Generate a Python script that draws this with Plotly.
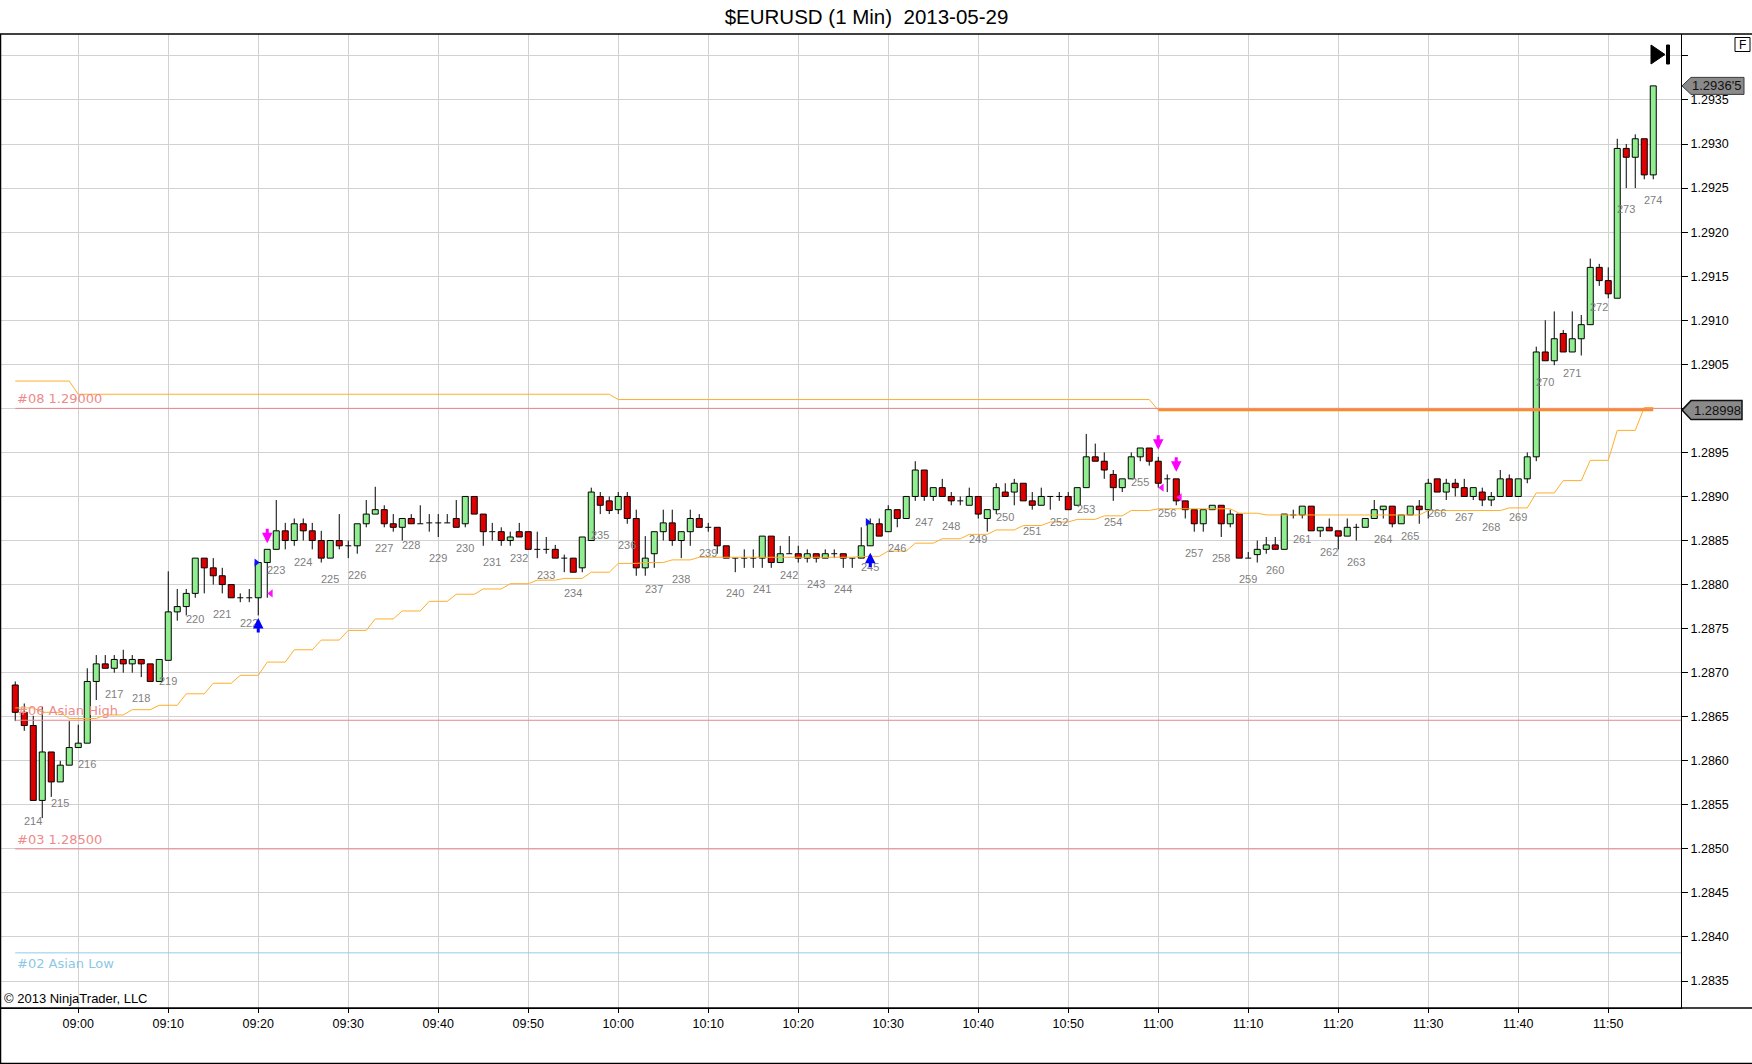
import plotly.graph_objects as go
import pandas as pd

# ---------------- data ----------------
times = pd.date_range("2013-05-29 08:53", "2013-05-29 11:55", freq="1min")

opens = [
    1.28686, 1.28655, 1.28640, 1.28555, 1.28610, 1.28576, 1.28595, 1.28615, 1.28620, 1.28690,
    1.28710, 1.28705, 1.28715, 1.28710, 1.28715, 1.28710, 1.28690, 1.28714, 1.28769, 1.28775,
    1.28790, 1.28830, 1.28819, 1.28810, 1.28800, 1.28785, 1.28785, 1.28785, 1.28825, 1.28840,
    1.28861, 1.28850, 1.28869, 1.28861, 1.28850, 1.28830, 1.28850, 1.28844, 1.28844, 1.28869,
    1.28880, 1.28885, 1.28869, 1.28865, 1.28875, 1.28869, 1.28870, 1.28870, 1.28870, 1.28875,
    1.28869, 1.28900, 1.28880, 1.28860, 1.28860, 1.28850, 1.28860, 1.28860, 1.28840, 1.28840,
    1.28840, 1.28830, 1.28830, 1.28819, 1.28850, 1.28900, 1.28895, 1.28885, 1.28900, 1.28875,
    1.28819, 1.28835, 1.28860, 1.28870, 1.28850, 1.28860, 1.28875, 1.28865, 1.28865, 1.28844,
    1.28830, 1.28830, 1.28830, 1.28830, 1.28855, 1.28825, 1.28835, 1.28835, 1.28830, 1.28835,
    1.28830, 1.28835, 1.28835, 1.28830, 1.28830, 1.28844, 1.28869, 1.28860, 1.28885, 1.28875,
    1.28900, 1.28930, 1.28900, 1.28910, 1.28900, 1.28895, 1.28890, 1.28900, 1.28875, 1.28885,
    1.28905, 1.28905, 1.28915, 1.28895, 1.28890, 1.28900, 1.28900, 1.28900, 1.28890, 1.28910,
    1.28945, 1.28940, 1.28925, 1.28910, 1.28920, 1.28945, 1.28955, 1.28940, 1.28920, 1.28920,
    1.28895, 1.28885, 1.28869, 1.28885, 1.28890, 1.28869, 1.28880, 1.28830, 1.28834, 1.28840,
    1.28845, 1.28840, 1.28879, 1.28879, 1.28889, 1.28861, 1.28865, 1.28861, 1.28855, 1.28865,
    1.28865, 1.28875, 1.28885, 1.28889, 1.28869, 1.28879, 1.28889, 1.28885, 1.28920, 1.28905,
    1.28915, 1.28910, 1.28900, 1.28905, 1.28896, 1.28900, 1.28920, 1.28900, 1.28920, 1.28945,
    1.29064, 1.29054, 1.29085, 1.29064, 1.29079, 1.29095, 1.29160, 1.29145, 1.29125, 1.29295,
    1.29285, 1.29306, 1.29265,
]
highs = [
    1.28690, 1.28665, 1.28651, 1.28661, 1.28610, 1.28600, 1.28645, 1.28641, 1.28705, 1.28720,
    1.28720, 1.28720, 1.28726, 1.28720, 1.28715, 1.28710, 1.28715, 1.28815, 1.28795, 1.28795,
    1.28830, 1.28830, 1.28830, 1.28819, 1.28800, 1.28790, 1.28795, 1.28825, 1.28840, 1.28896,
    1.28870, 1.28875, 1.28875, 1.28870, 1.28861, 1.28850, 1.28880, 1.28850, 1.28869, 1.28896,
    1.28911, 1.28890, 1.28880, 1.28875, 1.28880, 1.28890, 1.28880, 1.28880, 1.28880, 1.28896,
    1.28900, 1.28900, 1.28880, 1.28870, 1.28865, 1.28860, 1.28870, 1.28860, 1.28860, 1.28854,
    1.28845, 1.28834, 1.28830, 1.28854, 1.28910, 1.28905, 1.28900, 1.28905, 1.28905, 1.28885,
    1.28855, 1.28860, 1.28885, 1.28885, 1.28860, 1.28885, 1.28880, 1.28870, 1.28865, 1.28844,
    1.28830, 1.28840, 1.28840, 1.28855, 1.28855, 1.28844, 1.28855, 1.28844, 1.28840, 1.28835,
    1.28840, 1.28840, 1.28835, 1.28830, 1.28865, 1.28875, 1.28875, 1.28890, 1.28885, 1.28900,
    1.28940, 1.28930, 1.28910, 1.28920, 1.28905, 1.28900, 1.28910, 1.28900, 1.28885, 1.28915,
    1.28915, 1.28920, 1.28915, 1.28905, 1.28910, 1.28900, 1.28905, 1.28905, 1.28910, 1.28971,
    1.28960, 1.28950, 1.28930, 1.28920, 1.28950, 1.28955, 1.28955, 1.28945, 1.28925, 1.28920,
    1.28895, 1.28885, 1.28885, 1.28890, 1.28890, 1.28885, 1.28880, 1.28837, 1.28850, 1.28854,
    1.28854, 1.28880, 1.28885, 1.28889, 1.28889, 1.28865, 1.28875, 1.28861, 1.28875, 1.28869,
    1.28875, 1.28896, 1.28889, 1.28889, 1.28879, 1.28889, 1.28896, 1.28920, 1.28920, 1.28920,
    1.28920, 1.28920, 1.28910, 1.28910, 1.28905, 1.28930, 1.28925, 1.28920, 1.28950, 1.29070,
    1.29100, 1.29110, 1.29089, 1.29110, 1.29106, 1.29170, 1.29164, 1.29160, 1.29306, 1.29300,
    1.29311, 1.29306, 1.29366,
]
lows = [
    1.28645, 1.28634, 1.28555, 1.28535, 1.28559, 1.28576, 1.28595, 1.28615, 1.28620, 1.28669,
    1.28705, 1.28700, 1.28700, 1.28700, 1.28695, 1.28690, 1.28690, 1.28714, 1.28759, 1.28765,
    1.28785, 1.28790, 1.28800, 1.28790, 1.28785, 1.28780, 1.28780, 1.28765, 1.28785, 1.28840,
    1.28840, 1.28844, 1.28850, 1.28840, 1.28825, 1.28830, 1.28840, 1.28830, 1.28835, 1.28865,
    1.28880, 1.28865, 1.28860, 1.28850, 1.28869, 1.28869, 1.28860, 1.28854, 1.28870, 1.28865,
    1.28865, 1.28880, 1.28844, 1.28850, 1.28844, 1.28844, 1.28854, 1.28840, 1.28830, 1.28835,
    1.28830, 1.28814, 1.28814, 1.28814, 1.28850, 1.28880, 1.28880, 1.28880, 1.28869, 1.28810,
    1.28810, 1.28819, 1.28850, 1.28844, 1.28830, 1.28844, 1.28865, 1.28860, 1.28835, 1.28830,
    1.28814, 1.28819, 1.28819, 1.28819, 1.28819, 1.28825, 1.28835, 1.28825, 1.28825, 1.28825,
    1.28830, 1.28830, 1.28819, 1.28819, 1.28830, 1.28844, 1.28855, 1.28860, 1.28865, 1.28875,
    1.28895, 1.28895, 1.28895, 1.28900, 1.28890, 1.28890, 1.28890, 1.28875, 1.28860, 1.28880,
    1.28900, 1.28890, 1.28895, 1.28885, 1.28890, 1.28885, 1.28895, 1.28885, 1.28890, 1.28910,
    1.28940, 1.28920, 1.28895, 1.28905, 1.28920, 1.28940, 1.28935, 1.28910, 1.28905, 1.28890,
    1.28875, 1.28860, 1.28860, 1.28885, 1.28854, 1.28865, 1.28830, 1.28830, 1.28825, 1.28835,
    1.28840, 1.28840, 1.28875, 1.28875, 1.28861, 1.28854, 1.28861, 1.28840, 1.28855, 1.28850,
    1.28865, 1.28875, 1.28875, 1.28865, 1.28869, 1.28879, 1.28869, 1.28875, 1.28905, 1.28896,
    1.28900, 1.28900, 1.28896, 1.28889, 1.28889, 1.28900, 1.28900, 1.28900, 1.28915, 1.28940,
    1.29054, 1.29049, 1.29064, 1.29064, 1.29060, 1.29095, 1.29139, 1.29125, 1.29125, 1.29250,
    1.29250, 1.29260, 1.29260,
]
closes = [
    1.28655, 1.28640, 1.28555, 1.28610, 1.28576, 1.28595, 1.28615, 1.28620, 1.28690, 1.28710,
    1.28705, 1.28715, 1.28710, 1.28715, 1.28710, 1.28690, 1.28715, 1.28769, 1.28775, 1.28790,
    1.28830, 1.28819, 1.28810, 1.28800, 1.28785, 1.28785, 1.28785, 1.28825, 1.28840, 1.28861,
    1.28850, 1.28869, 1.28861, 1.28850, 1.28830, 1.28850, 1.28844, 1.28844, 1.28869, 1.28880,
    1.28885, 1.28869, 1.28865, 1.28875, 1.28869, 1.28869, 1.28870, 1.28870, 1.28870, 1.28865,
    1.28900, 1.28880, 1.28860, 1.28860, 1.28850, 1.28854, 1.28854, 1.28840, 1.28840, 1.28840,
    1.28830, 1.28830, 1.28814, 1.28854, 1.28905, 1.28890, 1.28884, 1.28900, 1.28875, 1.28819,
    1.28830, 1.28860, 1.28870, 1.28850, 1.28860, 1.28875, 1.28865, 1.28865, 1.28844, 1.28830,
    1.28830, 1.28830, 1.28830, 1.28855, 1.28825, 1.28835, 1.28835, 1.28830, 1.28835, 1.28830,
    1.28835, 1.28835, 1.28830, 1.28830, 1.28844, 1.28869, 1.28855, 1.28885, 1.28875, 1.28900,
    1.28930, 1.28900, 1.28910, 1.28900, 1.28895, 1.28895, 1.28900, 1.28880, 1.28885, 1.28910,
    1.28900, 1.28915, 1.28895, 1.28890, 1.28900, 1.28900, 1.28900, 1.28885, 1.28910, 1.28945,
    1.28940, 1.28930, 1.28910, 1.28920, 1.28945, 1.28955, 1.28940, 1.28915, 1.28920, 1.28895,
    1.28885, 1.28869, 1.28885, 1.28890, 1.28869, 1.28880, 1.28830, 1.28830, 1.28840, 1.28845,
    1.28840, 1.28880, 1.28879, 1.28889, 1.28861, 1.28865, 1.28861, 1.28855, 1.28865, 1.28865,
    1.28875, 1.28885, 1.28889, 1.28869, 1.28879, 1.28889, 1.28885, 1.28915, 1.28905, 1.28915,
    1.28910, 1.28900, 1.28910, 1.28896, 1.28900, 1.28920, 1.28900, 1.28920, 1.28945, 1.29064,
    1.29054, 1.29079, 1.29064, 1.29079, 1.29095, 1.29160, 1.29145, 1.29130, 1.29295, 1.29285,
    1.29306, 1.29265, 1.29366,
]

# bar counter labels (every 3rd bar)
bar_label_times = pd.date_range("2013-05-29 08:55", "2013-05-29 11:55", freq="3min")
bar_label_numbers = list(range(214, 275))

# trailing stop line (steps)
trail_start = ["08:53", "08:56", "08:59", "09:03", "09:06", "09:09", "09:12", "09:15", "09:18", "09:21",
               "09:24", "09:27", "09:30", "09:33", "09:36", "09:39", "09:42", "09:45", "09:48", "09:51",
               "09:54", "09:57", "10:00", "10:03", "10:06", "10:09", "10:27", "10:30", "10:33", "10:36",
               "10:39", "10:42", "10:45", "10:48", "10:51", "10:54", "10:57", "11:00", "11:09", "11:12",
               "11:30", "11:39", "11:42", "11:45", "11:48", "11:51", "11:54"]
trail_end = ["08:55", "08:58", "09:02", "09:05", "09:08", "09:11", "09:14", "09:17", "09:20", "09:23",
             "09:26", "09:29", "09:32", "09:35", "09:38", "09:41", "09:44", "09:47", "09:50", "09:53",
             "09:56", "09:59", "10:02", "10:05", "10:08", "10:26", "10:29", "10:32", "10:35", "10:38",
             "10:41", "10:44", "10:47", "10:50", "10:53", "10:56", "10:59", "11:08", "11:11", "11:29",
             "11:38", "11:41", "11:44", "11:47", "11:50", "11:53", "11:55"]
trail_value = [1.28660, 1.28655, 1.28648, 1.28652, 1.28658, 1.28663, 1.28676, 1.28688, 1.28697, 1.28712,
               1.28726, 1.28737, 1.28748, 1.28761, 1.28770, 1.28781, 1.28789, 1.28795, 1.28801, 1.28805,
               1.28807, 1.28814, 1.28824, 1.28825, 1.28828, 1.28831, 1.28832, 1.28838, 1.28847, 1.28852,
               1.28857, 1.28862, 1.28867, 1.28871, 1.28874, 1.28878, 1.28884, 1.28886, 1.28881, 1.28879,
               1.28884, 1.28887, 1.28904, 1.28918, 1.28941, 1.28975, 1.29001]

# upper level line (steps), last step drawn thick
upper_start = ["08:53", "09:00", "10:00", "11:00"]
upper_end = ["08:59", "09:59", "10:59", "11:55"]
upper_value = [1.29031, 1.29016, 1.29010, 1.28998]

# horizontal levels
level_names = ["#08 1.29000", "#06 Asian High", "#03 1.28500", "#02 Asian Low"]
level_values = [1.29000, 1.28646, 1.28500, 1.28382]
level_colors = ["#E8868C", "#E8868C", "#E8868C", "#92CBE5"]
level_text_colors = ["#EE8A8A", "#EE8A8A", "#EE8A8A", "#8CC8E6"]
level_label_below = [False, False, False, True]

# signals
up_arrow_times = ["2013-05-29 09:20", "2013-05-29 10:28"]
up_arrow_prices = [1.28762, 1.28836]
down_arrow_times = ["2013-05-29 09:21", "2013-05-29 11:00", "2013-05-29 11:02"]
down_arrow_prices = [1.28847, 1.28953, 1.28928]
tri_right_times = ["2013-05-29 09:19:47", "2013-05-29 10:27:42"]
tri_right_prices = [1.28825, 1.28871]
tri_left_times = ["2013-05-29 09:21:24", "2013-05-29 11:00:24", "2013-05-29 11:02:24"]
tri_left_prices = [1.28790, 1.28910, 1.28899]

y_ticks = [1.2835, 1.2840, 1.2845, 1.2850, 1.2855, 1.2860, 1.2865, 1.2870, 1.2875, 1.2880,
           1.2885, 1.2890, 1.2895, 1.2900, 1.2905, 1.2910, 1.2915, 1.2920, 1.2925, 1.2930,
           1.2935, 1.2940]
y_hidden_labels = [1.2900, 1.2940]
x_ticks = pd.date_range("2013-05-29 09:00", "2013-05-29 11:50", freq="10min")

last_price_label = "1.2936'5"
level_price_label = "1.28998"

# ---------------- layout geometry ----------------
W, H = 1752, 1064
ML, MR, MT, MB = 1, 71, 34, 56
PW, PH = W - ML - MR, H - MT - MB
X_RANGE = ["2013-05-29 08:51:25", "2013-05-29 11:58:05"]
Y_RANGE = [1.283194, 1.294249]
FONT = "Liberation Sans, Arial, sans-serif"
UP_FILL, DN_FILL = "#90EE90", "#E10000"

def px2paper_x(px):
    return (px - ML) / PW

def px2paper_y(py):
    return (H - MB - py) / PH

def T(hm):
    return pd.Timestamp("2013-05-29 " + hm)

fig = go.Figure()

# wicks (split so they don't cross the bodies)
wx, wy = [], []
for t, o, h, l, c in zip(times, opens, highs, lows, closes):
    top, bot = max(o, c), min(o, c)
    if h > top:
        wx += [t, t, None]; wy += [h, top, None]
    if l < bot:
        wx += [t, t, None]; wy += [bot, l, None]
fig.add_trace(go.Scatter(x=wx, y=wy, mode="lines", line=dict(color="black", width=1),
                         hoverinfo="skip", showlegend=False))

# doji bars
half = pd.Timedelta(seconds=20)
dx, dy = [], []
for t, o, c in zip(times, opens, closes):
    if abs(c - o) < 1e-9:
        dx += [t - half, t + half, None]; dy += [o, o, None]
fig.add_trace(go.Scatter(x=dx, y=dy, mode="lines", line=dict(color="black", width=1),
                         hoverinfo="skip", showlegend=False))

# bodies
bx, bh, bb, bc = [], [], [], []
for t, o, c in zip(times, opens, closes):
    if abs(c - o) < 1e-9:
        continue
    bx.append(t); bh.append(abs(c - o)); bb.append(min(o, c))
    bc.append(UP_FILL if c > o else DN_FILL)
fig.add_trace(go.Bar(x=bx, y=bh, base=bb, width=40000,
                     marker=dict(color=bc, line=dict(color="black", width=1)),
                     hoverinfo="skip", showlegend=False))

# trailing line
tx, ty = [], []
for s, e, v in zip(trail_start, trail_end, trail_value):
    tx += [T(s), T(e)]; ty += [v, v]
fig.add_trace(go.Scatter(x=tx, y=ty, mode="lines", line=dict(color="#FFAE2A", width=1),
                         hoverinfo="skip", showlegend=False))

# upper line
ux, uy = [], []
for s, e, v in zip(upper_start[:-1], upper_end[:-1], upper_value[:-1]):
    ux += [T(s), T(e)]; uy += [v, v]
ux.append(T(upper_start[-1])); uy.append(upper_value[-1])
fig.add_trace(go.Scatter(x=ux, y=uy, mode="lines", line=dict(color="#FFAE2A", width=1),
                         hoverinfo="skip", showlegend=False))
fig.add_trace(go.Scatter(x=[T(upper_start[-1]), T(upper_end[-1])], y=[upper_value[-1]] * 2,
                         mode="lines", line=dict(color="#FF8C1A", width=2.5),
                         hoverinfo="skip", showlegend=False))

# triangles
fig.add_trace(go.Scatter(x=pd.to_datetime(tri_right_times), y=tri_right_prices, mode="markers",
                         marker=dict(symbol="triangle-right", size=7, color="#1010FF"),
                         hoverinfo="skip", showlegend=False))
fig.add_trace(go.Scatter(x=pd.to_datetime(tri_left_times), y=tri_left_prices, mode="markers",
                         marker=dict(symbol="triangle-left", size=7, color="#FF10FF"),
                         hoverinfo="skip", showlegend=False))

shapes = []
annotations = []

# horizontal level lines + labels
for name, v, lc, tc, below in zip(level_names, level_values, level_colors, level_text_colors, level_label_below):
    shapes.append(dict(type="line", xref="x", yref="y", x0=times[0], x1=X_RANGE[1], y0=v, y1=v,
                       line=dict(color=lc, width=1), layer="above"))
    annotations.append(dict(x=times[0], y=v, xref="x", yref="y", text=name, showarrow=False,
                            xanchor="left", yanchor="top" if below else "bottom",
                            yshift=-1 if below else 0,
                            font=dict(family="DejaVu Sans, Verdana, sans-serif", size=13, color=tc)))

# bar counter labels
for t, n in zip(bar_label_times, bar_label_numbers):
    i = times.get_loc(t)
    annotations.append(dict(x=t, y=lows[i], xref="x", yref="y", text=str(n), showarrow=False,
                            yanchor="middle", yshift=-21,
                            font=dict(family=FONT, size=11, color="#808080")))

# arrows
for t, p in zip(up_arrow_times, up_arrow_prices):
    annotations.append(dict(x=pd.Timestamp(t), y=p, xref="x", yref="y", text="", showarrow=True,
                            arrowhead=2, arrowsize=0.7, arrowwidth=3, arrowcolor="#0000FF",
                            ax=0, ay=16, standoff=0))
for t, p in zip(down_arrow_times, down_arrow_prices):
    annotations.append(dict(x=pd.Timestamp(t), y=p, xref="x", yref="y", text="", showarrow=True,
                            arrowhead=2, arrowsize=0.7, arrowwidth=3, arrowcolor="#FF00FF",
                            ax=0, ay=-16, standoff=0))

# price boxes on axis
shapes.append(dict(type="path", xref="paper", yref="y", xsizemode="pixel", ysizemode="pixel",
                   xanchor=1, yanchor=closes[-1],
                   path="M1,0 L10,8.5 L63,8.5 L63,-8.5 L10,-8.5 Z",
                   fillcolor="#8A8A8A", line=dict(color="#3A3A3A", width=1), layer="above"))
annotations.append(dict(x=1, y=closes[-1], xref="paper", yref="y", text=last_price_label,
                        showarrow=False, xanchor="left", xshift=9, yanchor="middle",
                        font=dict(family=FONT, size=13, color="#111111")))
shapes.append(dict(type="path", xref="paper", yref="y", xsizemode="pixel", ysizemode="pixel",
                   xanchor=1, yanchor=upper_value[-1],
                   path="M1,0 L10,9.5 L61,9.5 L61,-9.5 L10,-9.5 Z",
                   fillcolor="#8A8A8A", line=dict(color="#111111", width=1.5), layer="above"))
annotations.append(dict(x=1, y=upper_value[-1], xref="paper", yref="y", text=level_price_label,
                        showarrow=False, xanchor="left", xshift=11, yanchor="middle",
                        font=dict(family=FONT, size=13, color="#111111")))

# frame lines
shapes.append(dict(type="line", xref="paper", yref="paper", x0=px2paper_x(0), x1=px2paper_x(W),
                   y0=1, y1=1, line=dict(color="black", width=1.5)))
shapes.append(dict(type="line", xref="paper", yref="paper", x0=px2paper_x(0), x1=px2paper_x(W),
                   y0=0, y1=0, line=dict(color="black", width=1.5)))
shapes.append(dict(type="line", xref="paper", yref="paper", x0=px2paper_x(0.5), x1=px2paper_x(0.5),
                   y0=px2paper_y(H), y1=1, line=dict(color="black", width=1.5)))
shapes.append(dict(type="line", xref="paper", yref="paper", x0=px2paper_x(0), x1=px2paper_x(W),
                   y0=px2paper_y(H - 0.5), y1=px2paper_y(H - 0.5), line=dict(color="black", width=1.5)))

# "go to end" icon and F box
shapes.append(dict(type="path", xref="paper", yref="paper", xsizemode="pixel", ysizemode="pixel",
                   xanchor=1, yanchor=1, path="M-30,-11 L-16,-20.5 L-30,-30 Z",
                   fillcolor="black", line=dict(color="black", width=1)))
shapes.append(dict(type="path", xref="paper", yref="paper", xsizemode="pixel", ysizemode="pixel",
                   xanchor=1, yanchor=1, path="M-14.5,-11 L-11.5,-11 L-11.5,-30 L-14.5,-30 Z",
                   fillcolor="black", line=dict(color="black", width=1)))
shapes.append(dict(type="rect", xref="paper", yref="paper", xsizemode="pixel", ysizemode="pixel",
                   xanchor=1, yanchor=1, x0=54, x1=69, y0=-3.5, y1=-17.5,
                   fillcolor="white", line=dict(color="black", width=1)))
annotations.append(dict(x=1, y=1, xref="paper", yref="paper", text="F", showarrow=False,
                        xanchor="center", yanchor="middle", xshift=61.5, yshift=-10.5,
                        font=dict(family=FONT, size=12, color="black")))

# copyright
annotations.append(dict(x=0, y=0, xref="paper", yref="paper", text="© 2013 NinjaTrader, LLC",
                        showarrow=False, xanchor="left", yanchor="bottom", xshift=1, yshift=0,
                        font=dict(family=FONT, size=13, color="black")))

y_text = ["" if any(abs(v - h) < 1e-9 for h in y_hidden_labels) else f"{v:.4f}" for v in y_ticks]

fig.update_layout(
    width=W, height=H,
    margin=dict(l=ML, r=MR, t=MT, b=MB, pad=0),
    paper_bgcolor="white", plot_bgcolor="white",
    showlegend=False, barmode="overlay",
    title=dict(text="$EURUSD (1 Min) \u00a02013-05-29", x=866.5 / W, xref="container",
               xanchor="center", y=1 - 16.5 / H, yref="container", yanchor="middle",
               font=dict(family=FONT, size=20.5, color="black")),
    font=dict(family=FONT, size=12.5, color="black"),
    xaxis=dict(type="date", range=X_RANGE, tickvals=list(x_ticks),
               ticktext=[t.strftime("%H:%M") for t in x_ticks],
               showgrid=True, gridcolor="#D2D2D2", gridwidth=1,
               ticks="outside", ticklen=4, tickcolor="black",
               showline=True, linecolor="black", linewidth=1,
               tickfont=dict(family=FONT, size=12.5, color="black"),
               zeroline=False, fixedrange=True, rangeslider=dict(visible=False)),
    yaxis=dict(range=Y_RANGE, side="right", tickvals=y_ticks, ticktext=y_text,
               showgrid=True, gridcolor="#D2D2D2", gridwidth=1,
               ticks="outside", ticklen=6, tickcolor="black",
               showline=True, linecolor="black", linewidth=1,
               tickfont=dict(family=FONT, size=12.5, color="black"),
               zeroline=False, fixedrange=True),
    shapes=shapes,
    annotations=annotations,
)

fig.write_html("out.html", config={"displayModeBar": False},
               post_script="document.body.style.margin='0';document.body.style.padding='0';")
